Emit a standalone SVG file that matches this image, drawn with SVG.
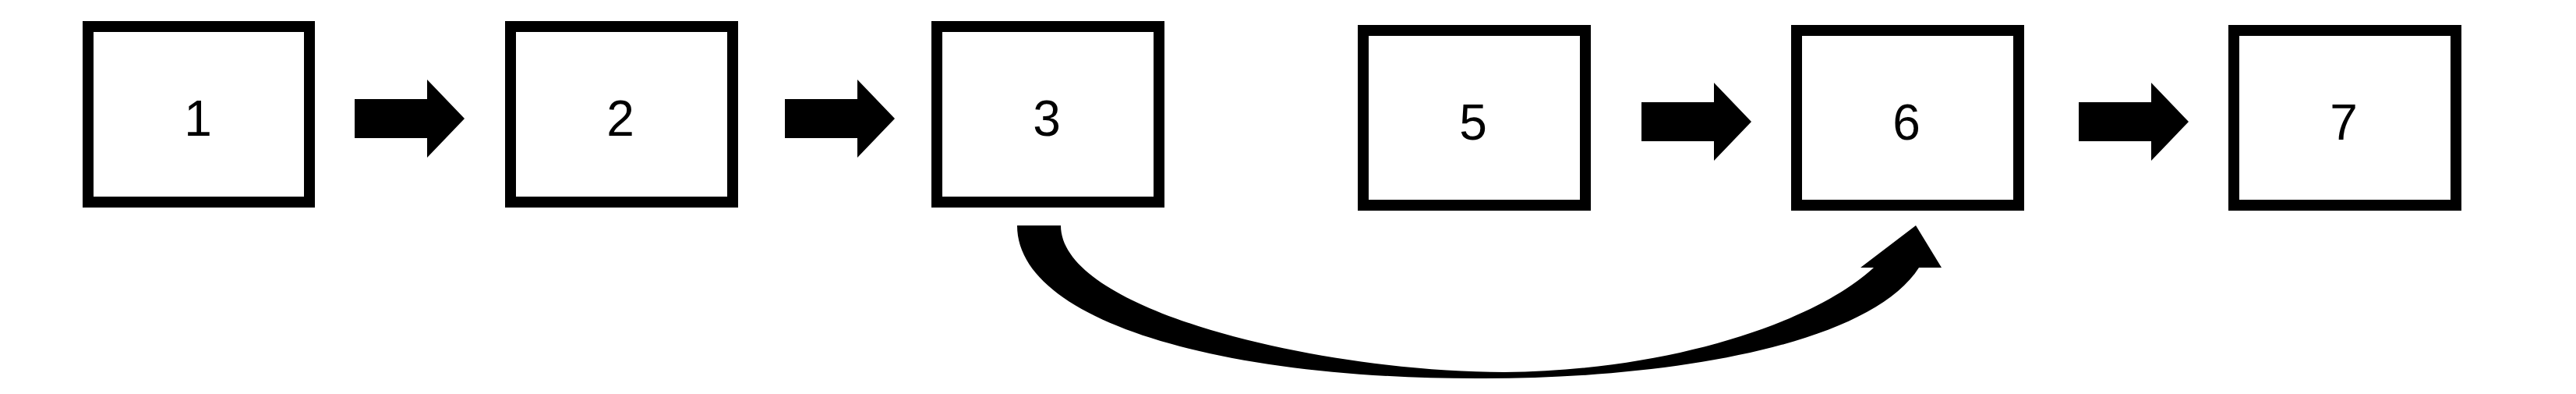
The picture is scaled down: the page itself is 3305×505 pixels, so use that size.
<svg xmlns="http://www.w3.org/2000/svg" xmlns:xlink="http://www.w3.org/1999/xlink" width="3305" height="505" viewBox="0 0 3305 505">
  <style>
    .box { fill: #ffffff; stroke: #000000; stroke-width: 14; }
    .lbl { font-family: "Liberation Sans", Arial, sans-serif; font-size: 64px; fill: #000000; text-anchor: middle; }
    .arr { fill: #000000; }
  </style>
  <defs>
    <polygon id="blockArrow" points="0,-25 93,-25 93,-50 141,0 93,50 93,25 0,25"/>
  </defs>
  <rect x="0" y="0" width="3305" height="505" fill="#ffffff"/>
  <g id="node1">
    <rect class="box" x="113" y="34" width="284" height="225"/>
    <text class="lbl" x="254" y="174">1</text>
  </g>
  <g id="node2">
    <rect class="box" x="655" y="34" width="285" height="225"/>
    <text class="lbl" x="796" y="174">2</text>
  </g>
  <g id="node3">
    <rect class="box" x="1202" y="34" width="285" height="225"/>
    <text class="lbl" x="1343" y="174">3</text>
  </g>
  <g id="node5">
    <rect class="box" x="1749" y="39" width="285" height="224"/>
    <text class="lbl" x="1890" y="179">5</text>
  </g>
  <g id="node6">
    <rect class="box" x="2305" y="39" width="285" height="224"/>
    <text class="lbl" x="2446" y="179">6</text>
  </g>
  <g id="node7">
    <rect class="box" x="2866" y="39" width="285" height="224"/>
    <text class="lbl" x="3007" y="179">7</text>
  </g>
  <g id="connectors">
    <use xlink:href="#blockArrow" href="#blockArrow" class="arr" transform="translate(455,152)"/>
    <use xlink:href="#blockArrow" href="#blockArrow" class="arr" transform="translate(1007,152)"/>
    <use xlink:href="#blockArrow" href="#blockArrow" class="arr" transform="translate(2106,156)"/>
    <use xlink:href="#blockArrow" href="#blockArrow" class="arr" transform="translate(2667,156)"/>
    <path class="arr" d="M1305,289 C1305,410 1560,485 1895,485 C2150,486 2400,440 2462,343 L2491,343 L2458,289 L2387,343 L2404,343 C2332,410 2150,475 1930,477 C1700,477 1361,400 1361,289 Z"/>
  </g>
</svg>
